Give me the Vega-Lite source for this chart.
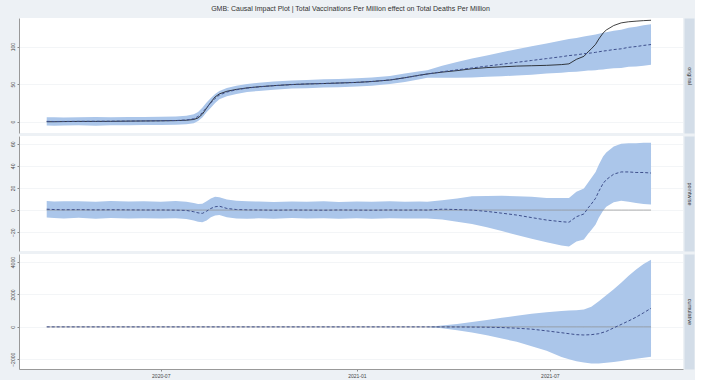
{
  "$schema": "https://vega.github.io/schema/vega-lite/v6.json",
  "padding": {"left": 9, "top": 5, "right": 4, "bottom": 2},
  "background": "#edf1f5",
  "title": {"text": "GMB: Causal Impact Plot | Total Vaccinations Per Million effect on Total Deaths Per Million", "fontSize": 7, "font": "Liberation Sans", "fontWeight": "normal", "color": "#333333", "anchor": "middle", "offset": 6},
  "spacing": 3,
  "datasets": {
    "orig": [
      {"d": "2020-03-16", "a": 0, "m": 0.5, "lo": -5, "hi": 6},
      {"d": "2020-03-23", "a": 0, "m": 0.3, "lo": -5.3, "hi": 5.8},
      {"d": "2020-04-01", "a": 0.2, "m": 0.4, "lo": -5, "hi": 5.6},
      {"d": "2020-04-15", "a": 0.4, "m": 0.5, "lo": -4.8, "hi": 5.9},
      {"d": "2020-05-01", "a": 0.4, "m": 0.6, "lo": -5.2, "hi": 6.2},
      {"d": "2020-05-15", "a": 0.5, "m": 0.7, "lo": -4.6, "hi": 5.8},
      {"d": "2020-06-01", "a": 0.8, "m": 0.9, "lo": -4.7, "hi": 6.4},
      {"d": "2020-06-15", "a": 1.0, "m": 1.1, "lo": -4.5, "hi": 6.2},
      {"d": "2020-07-01", "a": 1.2, "m": 1.3, "lo": -4.2, "hi": 6.6},
      {"d": "2020-07-15", "a": 1.5, "m": 1.6, "lo": -4.0, "hi": 7.0},
      {"d": "2020-07-25", "a": 2.0, "m": 2.3, "lo": -3.4, "hi": 7.9},
      {"d": "2020-08-01", "a": 3.0, "m": 4.0, "lo": -2.0, "hi": 10},
      {"d": "2020-08-05", "a": 5, "m": 7, "lo": 1, "hi": 13},
      {"d": "2020-08-09", "a": 10, "m": 12, "lo": 5.5, "hi": 18.5},
      {"d": "2020-08-13", "a": 18, "m": 19, "lo": 12.5, "hi": 25.5},
      {"d": "2020-08-17", "a": 26, "m": 25, "lo": 18.5, "hi": 31.5},
      {"d": "2020-08-21", "a": 33, "m": 31, "lo": 25, "hi": 37},
      {"d": "2020-08-25", "a": 37, "m": 35.5, "lo": 30, "hi": 41},
      {"d": "2020-09-01", "a": 40.5, "m": 39.5, "lo": 34, "hi": 45},
      {"d": "2020-09-10", "a": 43, "m": 42.5, "lo": 37, "hi": 48},
      {"d": "2020-09-20", "a": 45, "m": 44.8, "lo": 39.5, "hi": 50.2},
      {"d": "2020-10-01", "a": 46.5, "m": 46.4, "lo": 41, "hi": 51.8},
      {"d": "2020-10-15", "a": 48, "m": 48, "lo": 42.6, "hi": 53.4},
      {"d": "2020-11-01", "a": 49.5, "m": 49.4, "lo": 44.2, "hi": 55},
      {"d": "2020-11-15", "a": 50.2, "m": 50.3, "lo": 44.7, "hi": 55.6},
      {"d": "2020-12-01", "a": 50.8, "m": 50.9, "lo": 45.6, "hi": 56.4},
      {"d": "2020-12-15", "a": 51.5, "m": 51.5, "lo": 46, "hi": 57},
      {"d": "2021-01-01", "a": 52.3, "m": 52.4, "lo": 47, "hi": 58},
      {"d": "2021-01-15", "a": 53.5, "m": 53.5, "lo": 48, "hi": 59},
      {"d": "2021-02-01", "a": 55.5, "m": 55.6, "lo": 50.3, "hi": 61},
      {"d": "2021-02-15", "a": 58.5, "m": 58.4, "lo": 53, "hi": 64},
      {"d": "2021-03-01", "a": 62, "m": 61.8, "lo": 56.5, "hi": 67.3},
      {"d": "2021-03-08", "a": 63.5, "m": 63.5, "lo": 58.5, "hi": 68.5},
      {"d": "2021-03-22", "a": 66, "m": 66.5, "lo": 58.5, "hi": 74.5},
      {"d": "2021-04-05", "a": 68, "m": 69, "lo": 58.5, "hi": 79.5},
      {"d": "2021-04-19", "a": 70.5, "m": 71.5, "lo": 59, "hi": 84},
      {"d": "2021-05-03", "a": 72, "m": 74, "lo": 60, "hi": 88},
      {"d": "2021-05-17", "a": 73, "m": 76.5, "lo": 60.5, "hi": 92.5},
      {"d": "2021-05-31", "a": 74, "m": 79, "lo": 61.5, "hi": 96.5},
      {"d": "2021-06-14", "a": 74.5, "m": 81.5, "lo": 62.5, "hi": 100.5},
      {"d": "2021-06-28", "a": 75, "m": 84, "lo": 64, "hi": 104},
      {"d": "2021-07-12", "a": 76, "m": 86.5, "lo": 65, "hi": 108},
      {"d": "2021-07-19", "a": 77, "m": 88, "lo": 66, "hi": 110},
      {"d": "2021-07-26", "a": 83, "m": 89, "lo": 66.5, "hi": 111.5},
      {"d": "2021-08-02", "a": 87, "m": 90.5, "lo": 67.5, "hi": 113.5},
      {"d": "2021-08-06", "a": 93, "m": 91, "lo": 68, "hi": 114.5},
      {"d": "2021-08-09", "a": 97, "m": 91.5, "lo": 68, "hi": 115},
      {"d": "2021-08-13", "a": 103, "m": 92.3, "lo": 68.5, "hi": 116},
      {"d": "2021-08-16", "a": 110, "m": 93, "lo": 69, "hi": 117},
      {"d": "2021-08-20", "a": 118, "m": 94, "lo": 69.5, "hi": 118.5},
      {"d": "2021-08-23", "a": 122, "m": 94.5, "lo": 70, "hi": 119},
      {"d": "2021-08-30", "a": 128, "m": 96, "lo": 71, "hi": 121},
      {"d": "2021-09-06", "a": 131.5, "m": 97, "lo": 71.5, "hi": 122.5},
      {"d": "2021-09-13", "a": 133, "m": 99, "lo": 73, "hi": 125},
      {"d": "2021-09-20", "a": 133.8, "m": 100, "lo": 73.5, "hi": 126.5},
      {"d": "2021-09-27", "a": 134.5, "m": 101.5, "lo": 74.5, "hi": 128.5},
      {"d": "2021-10-04", "a": 135, "m": 102.7, "lo": 75.7, "hi": 129.7}
    ],
    "pw": [
      {"d": "2020-03-16", "m": 0.8, "lo": -6.8, "hi": 8.2},
      {"d": "2020-03-23", "m": 0.5, "lo": -7.2, "hi": 7.8},
      {"d": "2020-04-01", "m": 0.3, "lo": -7.5, "hi": 7.9},
      {"d": "2020-04-15", "m": 0.4, "lo": -7, "hi": 8.1},
      {"d": "2020-05-01", "m": 0.2, "lo": -7.8, "hi": 7.6},
      {"d": "2020-05-15", "m": 0.3, "lo": -7.1, "hi": 8.3},
      {"d": "2020-06-01", "m": 0.2, "lo": -7.6, "hi": 7.7},
      {"d": "2020-06-15", "m": 0.1, "lo": -7.3, "hi": 8.0},
      {"d": "2020-07-01", "m": 0.1, "lo": -7.7, "hi": 7.5},
      {"d": "2020-07-15", "m": 0, "lo": -7.4, "hi": 8.2},
      {"d": "2020-07-25", "m": -0.3, "lo": -8, "hi": 7.6},
      {"d": "2020-08-01", "m": -1.5, "lo": -9.5, "hi": 6.5},
      {"d": "2020-08-05", "m": -2.5, "lo": -10.5, "hi": 5.5},
      {"d": "2020-08-09", "m": -3, "lo": -11, "hi": 5.8},
      {"d": "2020-08-13", "m": -1, "lo": -9.5, "hi": 8},
      {"d": "2020-08-17", "m": 1.5, "lo": -6.5, "hi": 10.5},
      {"d": "2020-08-21", "m": 3, "lo": -5, "hi": 12},
      {"d": "2020-08-25", "m": 3.5, "lo": -4.5, "hi": 11.5},
      {"d": "2020-09-01", "m": 1.5, "lo": -6.5, "hi": 9.5},
      {"d": "2020-09-10", "m": 0.5, "lo": -7.5, "hi": 8.5},
      {"d": "2020-09-20", "m": 0.2, "lo": -7.8, "hi": 8.0},
      {"d": "2020-10-01", "m": 0.1, "lo": -7.4, "hi": 7.7},
      {"d": "2020-10-15", "m": -0.1, "lo": -7.9, "hi": 7.3},
      {"d": "2020-11-01", "m": 0.1, "lo": -7.2, "hi": 7.8},
      {"d": "2020-11-15", "m": 0, "lo": -7.6, "hi": 7.5},
      {"d": "2020-12-01", "m": -0.1, "lo": -7.3, "hi": 7.9},
      {"d": "2020-12-15", "m": 0.1, "lo": -7.8, "hi": 7.4},
      {"d": "2021-01-01", "m": 0, "lo": -7.4, "hi": 7.7},
      {"d": "2021-01-15", "m": -0.1, "lo": -7.9, "hi": 7.5},
      {"d": "2021-02-01", "m": 0.1, "lo": -7.3, "hi": 8.0},
      {"d": "2021-02-15", "m": 0, "lo": -7.7, "hi": 7.6},
      {"d": "2021-03-01", "m": 0.1, "lo": -7.5, "hi": 7.8},
      {"d": "2021-03-08", "m": 0, "lo": -7.5, "hi": 7.5},
      {"d": "2021-03-22", "m": 0.8, "lo": -8.5, "hi": 9},
      {"d": "2021-04-05", "m": 0.5, "lo": -10.5, "hi": 10.5},
      {"d": "2021-04-19", "m": 0, "lo": -12.5, "hi": 12.5},
      {"d": "2021-05-03", "m": -1.2, "lo": -15.5, "hi": 12.8},
      {"d": "2021-05-17", "m": -2.8, "lo": -19, "hi": 13},
      {"d": "2021-05-31", "m": -4.5, "lo": -22.5, "hi": 12.5},
      {"d": "2021-06-14", "m": -6.8, "lo": -26, "hi": 12},
      {"d": "2021-06-28", "m": -9, "lo": -29, "hi": 11},
      {"d": "2021-07-12", "m": -10.5, "lo": -32, "hi": 11},
      {"d": "2021-07-19", "m": -11, "lo": -33, "hi": 11},
      {"d": "2021-07-26", "m": -6, "lo": -28.5, "hi": 16.5},
      {"d": "2021-08-02", "m": -3.5, "lo": -26.5, "hi": 19.5},
      {"d": "2021-08-06", "m": 2, "lo": -21.5, "hi": 25},
      {"d": "2021-08-09", "m": 5.5, "lo": -18, "hi": 29},
      {"d": "2021-08-13", "m": 10.7, "lo": -13, "hi": 34.5},
      {"d": "2021-08-16", "m": 17, "lo": -7, "hi": 41},
      {"d": "2021-08-20", "m": 24, "lo": -0.5, "hi": 48.5},
      {"d": "2021-08-23", "m": 27.5, "lo": 3, "hi": 52},
      {"d": "2021-08-30", "m": 32.5, "lo": 7, "hi": 57.5},
      {"d": "2021-09-06", "m": 34.5, "lo": 8.5, "hi": 60},
      {"d": "2021-09-13", "m": 34.5, "lo": 7.5, "hi": 60.5},
      {"d": "2021-09-20", "m": 34, "lo": 6.5, "hi": 60.5},
      {"d": "2021-09-27", "m": 34, "lo": 5.5, "hi": 61},
      {"d": "2021-10-04", "m": 33.5, "lo": 5, "hi": 61}
    ],
    "cum": [
      {"d": "2020-03-16", "m": 0, "lo": 0, "hi": 0},
      {"d": "2020-09-01", "m": 0, "lo": 0, "hi": 0},
      {"d": "2021-03-08", "m": 0, "lo": 0, "hi": 0},
      {"d": "2021-03-22", "m": -2, "lo": -80, "hi": 80},
      {"d": "2021-04-05", "m": -5, "lo": -200, "hi": 180},
      {"d": "2021-04-19", "m": -10, "lo": -340, "hi": 300},
      {"d": "2021-05-03", "m": -20, "lo": -520, "hi": 430},
      {"d": "2021-05-17", "m": -40, "lo": -720, "hi": 560},
      {"d": "2021-05-31", "m": -80, "lo": -920, "hi": 680},
      {"d": "2021-06-14", "m": -140, "lo": -1190, "hi": 810},
      {"d": "2021-06-28", "m": -245, "lo": -1480, "hi": 900},
      {"d": "2021-07-12", "m": -360, "lo": -1860, "hi": 980},
      {"d": "2021-07-19", "m": -420, "lo": -2000, "hi": 1010},
      {"d": "2021-07-26", "m": -480, "lo": -2120, "hi": 1030},
      {"d": "2021-08-02", "m": -500, "lo": -2200, "hi": 1080},
      {"d": "2021-08-09", "m": -480, "lo": -2260, "hi": 1250},
      {"d": "2021-08-16", "m": -420, "lo": -2260, "hi": 1590},
      {"d": "2021-08-23", "m": -280, "lo": -2220, "hi": 1950},
      {"d": "2021-08-30", "m": -60, "lo": -2170, "hi": 2320},
      {"d": "2021-09-06", "m": 150, "lo": -2100, "hi": 2720},
      {"d": "2021-09-13", "m": 370, "lo": -2030, "hi": 3150},
      {"d": "2021-09-20", "m": 600, "lo": -1960, "hi": 3550},
      {"d": "2021-09-27", "m": 870, "lo": -1900, "hi": 3880},
      {"d": "2021-10-04", "m": 1150, "lo": -1840, "hi": 4150}
    ]
  },
  "vconcat": [
    {
      "width": 664, "height": 115,
      "data": {"name": "orig"},
      "encoding": {"x": {"field": "d", "type": "temporal", "scale": {"domain": [{"year": 2020, "month": 2, "date": 19}, {"year": 2021, "month": 11, "date": 3}]}, "axis": {"labels": false, "ticks": false, "domain": false, "grid": false, "title": null}}},
      "layer": [
        {"mark": {"type": "area", "color": "#abc6ea", "opacity": 1}, "encoding": {"y": {"field": "lo", "type": "quantitative", "scale": {"domain": [-15, 138], "nice": false, "zero": false}, "axis": {"values": [0, 50, 100], "format": "d", "title": null, "labelAngle": 270, "labelAlign": "center", "labelBaseline": "bottom", "labelFontSize": 5, "labelFont": "Liberation Sans", "labelColor": "#444444", "tickSize": 2, "tickColor": "#888888", "labelPadding": 2, "domainColor": "#999999", "gridColor": "#eef1f4", "gridWidth": 0.7}}, "y2": {"field": "hi"}}},
        {"mark": {"type": "line", "color": "#111111", "strokeWidth": 0.8}, "encoding": {"y": {"field": "a", "type": "quantitative", "axis": null}}},
        {"mark": {"type": "line", "color": "#3e4f8c", "strokeWidth": 1, "strokeDash": [3, 2]}, "encoding": {"y": {"field": "m", "type": "quantitative", "axis": {"orient": "right", "labels": false, "ticks": false, "grid": false, "domain": true, "domainColor": "#d3dde8", "domainWidth": 10, "offset": 6, "title": "original", "titleAngle": 90, "titleFontSize": 5.5, "titleFont": "Liberation Sans", "titleFontWeight": "normal", "titleColor": "#333333", "titleX": 0, "titleY": 57.5, "titleAlign": "center", "titleBaseline": "middle"}}}},
        {"data": {"values": [{"k": 1}]}, "mark": {"type": "rule", "color": "#b0b0b0", "strokeDash": [2, 2], "strokeWidth": 0.8}, "encoding": {"x": {"datum": {"year": 2021, "month": 3, "date": 8}}}}
      ],
      "resolve": {"axis": {"y": "independent"}}
    },
    {
      "width": 664, "height": 115,
      "data": {"name": "pw"},
      "encoding": {"x": {"field": "d", "type": "temporal", "scale": {"domain": [{"year": 2020, "month": 2, "date": 19}, {"year": 2021, "month": 11, "date": 3}]}, "axis": {"labels": false, "ticks": false, "domain": false, "grid": false, "title": null}}},
      "layer": [
        {"mark": {"type": "area", "color": "#abc6ea", "opacity": 1}, "encoding": {"y": {"field": "lo", "type": "quantitative", "scale": {"domain": [-37, 67], "nice": false, "zero": false}, "axis": {"values": [-20, 0, 20, 40, 60], "format": "d", "title": null, "labelAngle": 270, "labelAlign": "center", "labelBaseline": "bottom", "labelFontSize": 5, "labelFont": "Liberation Sans", "labelColor": "#444444", "tickSize": 2, "tickColor": "#888888", "labelPadding": 2, "domainColor": "#999999", "gridColor": "#eef1f4", "gridWidth": 0.7}}, "y2": {"field": "hi"}}},
        {"mark": {"type": "line", "color": "#8c8c8c", "strokeWidth": 0.7}, "encoding": {"y": {"datum": 0, "type": "quantitative", "axis": null}}},
        {"mark": {"type": "line", "color": "#3e4f8c", "strokeWidth": 1, "strokeDash": [3, 2]}, "encoding": {"y": {"field": "m", "type": "quantitative", "axis": {"orient": "right", "labels": false, "ticks": false, "grid": false, "domain": true, "domainColor": "#d3dde8", "domainWidth": 10, "offset": 6, "title": "pointwise", "titleAngle": 90, "titleFontSize": 5.5, "titleFont": "Liberation Sans", "titleFontWeight": "normal", "titleColor": "#333333", "titleX": 0, "titleY": 57.5, "titleAlign": "center", "titleBaseline": "middle"}}}},
        {"data": {"values": [{"k": 1}]}, "mark": {"type": "rule", "color": "#b0b0b0", "strokeDash": [2, 2], "strokeWidth": 0.8}, "encoding": {"x": {"datum": {"year": 2021, "month": 3, "date": 8}}}}
      ],
      "resolve": {"axis": {"y": "independent"}}
    },
    {
      "width": 664, "height": 115,
      "data": {"name": "cum"},
      "encoding": {"x": {"field": "d", "type": "temporal", "scale": {"domain": [{"year": 2020, "month": 2, "date": 19}, {"year": 2021, "month": 11, "date": 3}]}, "axis": {"values": [{"year": 2020, "month": 7, "date": 1}, {"year": 2021, "month": 1, "date": 1}, {"year": 2021, "month": 7, "date": 1}], "format": "%Y-%m", "title": null, "grid": false, "labelFontSize": 5, "labelFont": "Liberation Sans", "labelColor": "#444444", "tickSize": 2, "tickColor": "#888888", "labelPadding": 2, "domainColor": "#999999"}}},
      "layer": [
        {"mark": {"type": "area", "color": "#abc6ea", "opacity": 1}, "encoding": {"y": {"field": "lo", "type": "quantitative", "scale": {"domain": [-2600, 4500], "nice": false, "zero": false}, "axis": {"values": [-2000, 0, 2000, 4000], "format": "d", "title": null, "labelAngle": 270, "labelAlign": "center", "labelBaseline": "bottom", "labelFontSize": 5, "labelFont": "Liberation Sans", "labelColor": "#444444", "tickSize": 2, "tickColor": "#888888", "labelPadding": 2, "domainColor": "#999999", "gridColor": "#eef1f4", "gridWidth": 0.7}}, "y2": {"field": "hi"}}},
        {"mark": {"type": "line", "color": "#8c8c8c", "strokeWidth": 0.7}, "encoding": {"y": {"datum": 0, "type": "quantitative", "axis": null}}},
        {"mark": {"type": "line", "color": "#3e4f8c", "strokeWidth": 1, "strokeDash": [3, 2]}, "encoding": {"y": {"field": "m", "type": "quantitative", "axis": {"orient": "right", "labels": false, "ticks": false, "grid": false, "domain": true, "domainColor": "#d3dde8", "domainWidth": 10, "offset": 6, "title": "cumulative", "titleAngle": 90, "titleFontSize": 5.5, "titleFont": "Liberation Sans", "titleFontWeight": "normal", "titleColor": "#333333", "titleX": 0, "titleY": 57.5, "titleAlign": "center", "titleBaseline": "middle"}}}},
        {"data": {"values": [{"k": 1}]}, "mark": {"type": "rule", "color": "#b0b0b0", "strokeDash": [2, 2], "strokeWidth": 0.8}, "encoding": {"x": {"datum": {"year": 2021, "month": 3, "date": 8}}}}
      ],
      "resolve": {"axis": {"y": "independent"}}
    }
  ],
  "config": {
    "view": {"fill": "white", "stroke": null}
  }
}
